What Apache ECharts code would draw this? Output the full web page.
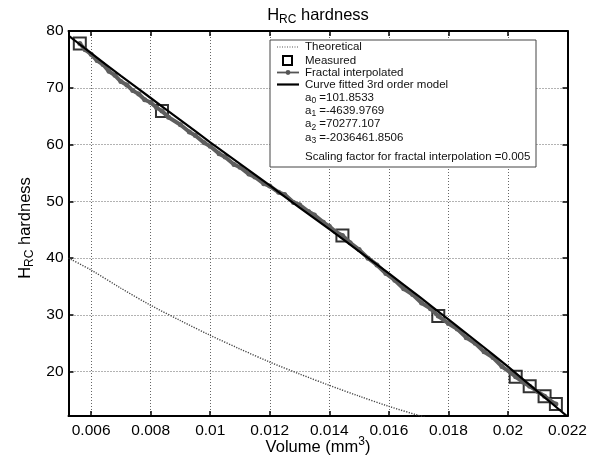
<!DOCTYPE html>
<html><head><meta charset="utf-8">
<script src="https://cdn.jsdelivr.net/npm/echarts@6/dist/echarts.min.js"></script>
<style>html,body{margin:0;padding:0;background:#fff}#c{width:595px;height:461px}</style>
</head><body><div id="c"></div>
<script>
const FONT = 'Liberation Sans, Arial, sans-serif';
const xTicks = [0.006, 0.008, 0.01, 0.012, 0.014, 0.016, 0.018, 0.02, 0.022];
const yTicks = [20, 30, 40, 50, 60, 70, 80];
const xMin = 0.00524, xMax = 0.022, yMin = 12.2, yMax = 80;

const theoX = [0.00524, 0.006, 0.007, 0.008, 0.009, 0.010, 0.011, 0.012, 0.013, 0.014, 0.015, 0.016, 0.017, 0.0172];
const theoY = [40.0, 37.9, 34.7, 31.7, 29.0, 26.4, 24.0, 21.7, 19.6, 17.6, 15.7, 13.9, 12.3, 12.0];

const measX = [0.00562, 0.00838, 0.01444, 0.01766, 0.02026, 0.02073, 0.02123, 0.02161];
const measY = [77.8, 65.9, 44.0, 29.8, 19.1, 17.45, 15.7, 14.3];

const fracX = [0.00562, 0.0058, 0.0060, 0.0062, 0.0064, 0.0066, 0.0068, 0.0070, 0.0072, 0.0074, 0.0076, 0.0078, 0.0080, 0.0082, 0.00838,
  0.0086, 0.0090, 0.0093, 0.0095, 0.0098, 0.0100, 0.0103, 0.0105, 0.0108, 0.0110, 0.0113, 0.0115, 0.0118, 0.0120, 0.0123, 0.0125, 0.0128, 0.0130, 0.0133, 0.0135, 0.0138, 0.0140, 0.0142, 0.01444,
  0.0147, 0.0150, 0.0153, 0.0156, 0.0159, 0.0162, 0.0165, 0.0168, 0.0171, 0.0174, 0.01766,
  0.0180, 0.0183, 0.0186, 0.0189, 0.0192, 0.0195, 0.0198, 0.0201, 0.02026,
  0.0205, 0.02073, 0.0210, 0.02123, 0.0214, 0.02161];
const fracY = [77.8, 76.7, 75.9, 74.8, 74.1, 72.9, 72.2, 71.1, 70.5, 69.5, 68.9, 67.9, 67.4, 66.5, 65.9,
  64.8, 63.5, 62.2, 61.6, 60.3, 59.7, 58.4, 57.8, 56.5, 56.0, 54.8, 54.3, 53.1, 52.7, 51.6, 51.2, 49.8, 49.4, 48.2, 47.6, 46.3, 45.6, 44.7, 44.0,
  42.7, 41.5, 40.0, 38.8, 37.3, 36.1, 34.6, 33.6, 32.1, 31.1, 29.8,
  28.5, 27.5, 26.0, 25.0, 23.5, 22.5, 20.9, 19.8, 19.1,
  18.2, 17.45, 16.5, 15.7, 15.0, 14.3];

const fitX = [0.00524, 0.006, 0.007, 0.008, 0.009, 0.010, 0.011, 0.012, 0.013, 0.014, 0.015, 0.016, 0.017, 0.018, 0.019, 0.020, 0.021, 0.022];
const fitY = [79.2, 76.1, 72.1, 68.2, 64.3, 60.4, 56.6, 52.8, 48.9, 45.1, 41.2, 37.3, 33.3, 29.2, 25.1, 20.9, 16.5, 12.1];

const legendTexts = ['Theoretical', 'Measured', 'Fractal interpolated', 'Curve fitted 3rd order model'];
const coefLabels = ['0', '1', '2', '3'];
const coefValues = ['101.8533', '-4639.9769', '70277.107', '-2036461.8506'];
const scalingText = 'Scaling factor for fractal interpolation =0.005';

const zip = (a, b) => a.map((v, i) => [v, b[i]]);

const chart = echarts.init(document.getElementById('c'), null, {renderer: 'canvas'});

const labelStyle = {fontFamily: FONT, fontSize: 15.5, color: '#000'};
const gridLine = {show: true, lineStyle: {type: [1, 2], color: '#666', width: 1}};

function xAxisDef(pos, main) {
  return {
    type: 'value', position: pos, min: xMin, max: xMax,
    axisLine: {show: true, onZero: false, lineStyle: {color: '#000', width: 2}},
    axisTick: {show: true, inside: true, length: 5, customValues: xTicks, lineStyle: {color: '#000', width: 1.5}},
    axisLabel: main ? Object.assign({show: true, margin: 7, customValues: xTicks, formatter: v => String(v)}, labelStyle) : {show: false},
    splitLine: main ? gridLine : {show: false}
  };
}
function yAxisDef(pos, main) {
  return {
    type: 'value', position: pos, min: yMin, max: yMax,
    axisLine: {show: true, onZero: false, lineStyle: {color: '#000', width: 2}},
    axisTick: {show: true, inside: true, length: 5, customValues: yTicks, lineStyle: {color: '#000', width: 1.5}},
    axisLabel: main ? Object.assign({show: true, margin: 5, customValues: yTicks}, labelStyle) : {show: false},
    splitLine: main ? gridLine : {show: false}
  };
}

const m = (s, lh) => ({fontFamily: FONT, fontSize: s, lineHeight: lh, fill: '#000'});
const legX = 305;
const legYs = [47, 60.5, 72.5, 84.5];
const coefYs = [97.5, 110.5, 124, 137.5];

const graphics = [
  {type: 'text', x: 318, y: 15, style: {text: '{m|H}{s|RC}{m| hardness}', align: 'center', verticalAlign: 'middle',
    rich: {m: m(16.5, 22), s: Object.assign(m(12, 12), {verticalAlign: 'bottom'})}}},
  {type: 'text', x: 318, y: 447, style: {text: '{m|Volume (mm}{p|3}{m|)}', align: 'center', verticalAlign: 'middle',
    rich: {m: m(16.5, 22), p: Object.assign(m(12, 12), {verticalAlign: 'top'})}}},
  {type: 'text', x: 25, y: 228, rotation: Math.PI / 2, style: {text: '{m|H}{s|RC}{m| hardness}', align: 'center', verticalAlign: 'middle',
    rich: {m: m(16.5, 22), s: Object.assign(m(12, 12), {verticalAlign: 'bottom'})}}},
  {type: 'rect', shape: {x: 270, y: 40, width: 266, height: 127}, style: {fill: '#fff', stroke: '#444', lineWidth: 1}, z: 10},
  {type: 'line', shape: {x1: 277, y1: legYs[0], x2: 298, y2: legYs[0]}, style: {stroke: '#555', lineWidth: 1.2, lineDash: [1, 1.5]}, z: 11},
  {type: 'rect', shape: {x: 283, y: legYs[1] - 4.5, width: 9, height: 9}, style: {fill: 'none', stroke: '#000', lineWidth: 2}, z: 11},
  {type: 'line', shape: {x1: 277, y1: legYs[2], x2: 299, y2: legYs[2]}, style: {stroke: '#555', lineWidth: 1.8}, z: 11},
  {type: 'circle', shape: {cx: 288, cy: legYs[2], r: 2.4}, style: {fill: '#555'}, z: 11},
  {type: 'line', shape: {x1: 277, y1: legYs[3], x2: 299, y2: legYs[3]}, style: {stroke: '#000', lineWidth: 2.2}, z: 11}
];
legendTexts.forEach((t, i) => {
  graphics.push({type: 'text', x: legX, y: legYs[i], z: 11, style: {text: t, fontFamily: FONT, fontSize: 11.5, fill: '#111', verticalAlign: 'middle'}});
});
coefLabels.forEach((c, i) => {
  graphics.push({type: 'text', x: legX, y: coefYs[i], z: 11, style: {text: '{m|a}{s|' + c + '}{m| =' + coefValues[i] + '}', verticalAlign: 'middle',
    rich: {m: Object.assign(m(11.5, 16), {fill: '#111'}), s: Object.assign(m(8.5, 8), {verticalAlign: 'bottom', fill: '#111'})}}});
});
graphics.push({type: 'text', x: legX, y: 156.5, z: 11, style: {text: scalingText, fontFamily: FONT, fontSize: 11.5, fill: '#111', verticalAlign: 'middle'}});

chart.setOption({
  animation: false,
  backgroundColor: '#fff',
  grid: {left: 68.5, right: 27.5, top: 31, bottom: 45, containLabel: false},
  xAxis: [xAxisDef('bottom', true), xAxisDef('top', false)],
  yAxis: [yAxisDef('left', true), yAxisDef('right', false)],
  series: [
    {name: 'Theoretical', type: 'line', data: zip(theoX, theoY), showSymbol: false, smooth: 0.3, clip: true,
      lineStyle: {type: [1.2, 1.4], color: '#444', width: 1.4}, z: 2},
    {name: 'Measured', type: 'scatter', data: zip(measX, measY), symbol: 'rect', symbolSize: 12,
      itemStyle: {color: 'rgba(0,0,0,0)', borderColor: '#000', borderWidth: 2}, z: 3},
    {name: 'Fractal interpolated', type: 'line', data: zip(fracX, fracY), symbol: 'circle', symbolSize: 5, showSymbol: true,
      lineStyle: {color: '#5e5e5e', width: 4}, itemStyle: {color: '#5e5e5e'}, z: 4},
    {name: 'Curve fitted', type: 'line', data: zip(fitX, fitY), showSymbol: false, smooth: 0.2,
      lineStyle: {color: '#000', width: 2.2}, z: 5}
  ],
  graphic: {elements: graphics}
});
</script>
</body></html>
